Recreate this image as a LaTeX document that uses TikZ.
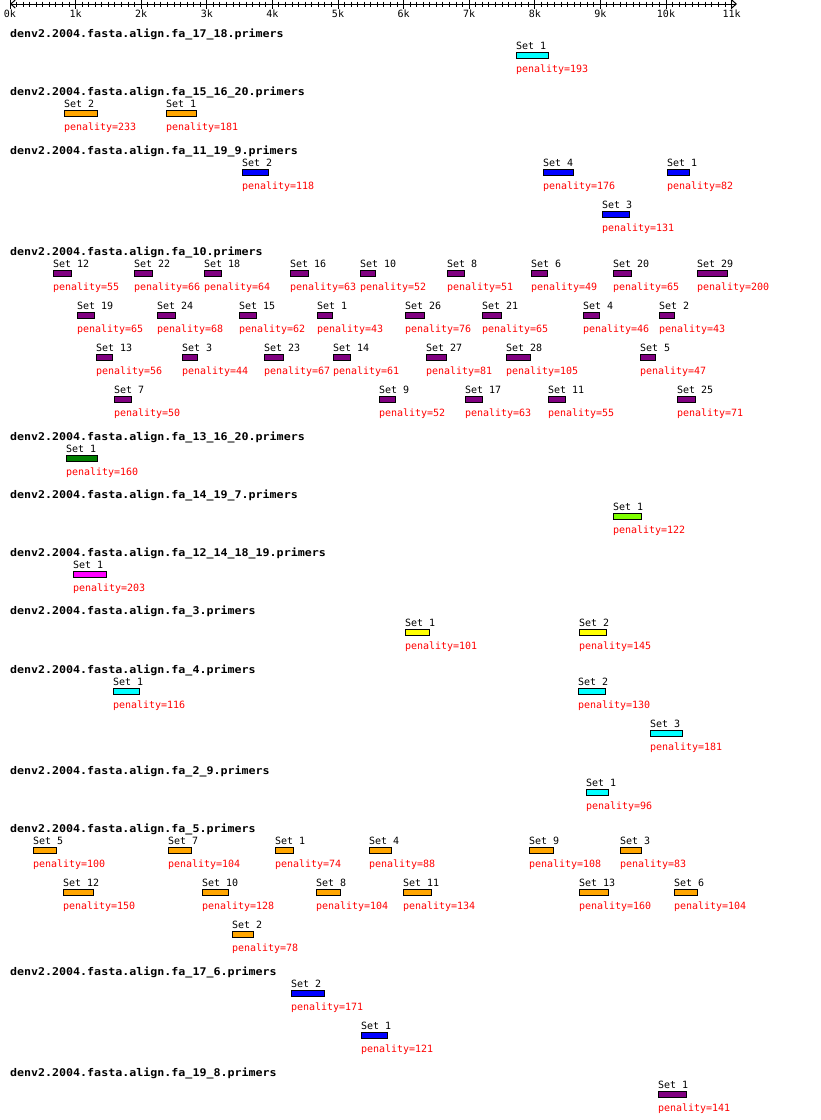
\documentclass[tikz,border=0pt]{standalone}
\usepackage{fontspec}
\usepackage{graphicx}
\usetikzlibrary{arrows.meta}
\newfontfamily\monof{DejaVu Sans Mono}
\definecolor{pcyan}{RGB}{0,255,255}
\definecolor{porange}{RGB}{255,165,0}
\definecolor{pblue}{RGB}{0,0,255}
\definecolor{ppurple}{RGB}{128,0,128}
\definecolor{pgreen}{RGB}{0,128,0}
\definecolor{plime}{RGB}{127,255,0}
\definecolor{pmagenta}{RGB}{255,0,255}
\definecolor{pyellow}{RGB}{255,255,0}
\definecolor{pred}{RGB}{255,0,0}
\tikzset{
  barbox/.style={rectangle, draw=black, line width=1pt, inner sep=0pt, outer sep=0pt, minimum height=6pt, anchor=north west},
  setlbl/.style={font=\monof\fontsize{10}{12}\selectfont, text=black, inner sep=0pt, outer sep=0pt, anchor=base west},
  penlbl/.style={font=\monof\fontsize{10}{12}\selectfont, text=pred, inner sep=0pt, outer sep=0pt, anchor=base west},
  ticklbl/.style={font=\monof\fontsize{10}{12}\selectfont, text=black, inner sep=0pt, outer sep=0pt, anchor=base},
  ttl/.style={font=\monof\bfseries\fontsize{10.6}{12}\selectfont, text=black, inner sep=0pt, outer sep=0pt, anchor=base west},
  axisline/.style={line width=1pt, draw=black},
}
\newcommand\pset[7]{%
  \node[barbox, fill=#5, minimum width={#4-1}] (#1) at ({#2+0.5},{#3+0.5}) {};
  \node[setlbl] (#1s) at (#2,{#3-3}) {Set #6};
  \node[penlbl] (#1p) at (#2,{#3+20.5}) {penality=#7};
}
\newcommand\ptitle[3]{%
  \node[ttl] (#1) at (10,#2) {\scalebox{1.1}[1]{denv2.2004.fasta.align.fa\_#3.primers}};
}
\begin{document}
\begin{tikzpicture}[x=1pt,y=-1pt,line width=1pt]
\fill[white] (0,0) rectangle (820,1120);
\useasboundingbox (0,0) rectangle (820,1120);
% ruler
\coordinate (axL) at (10,4);
\coordinate (axR) at (737,4);
\draw[axisline, {Straight Barb[length=4.5pt,width=8pt]}-{Straight Barb[length=4.5pt,width=8pt]}] (axL) -- (axR);
\foreach \i in {1,...,110}{
  \pgfmathsetmacro\xx{10+6.56*\i}
  \draw[line width=1pt] (\xx,1.5) -- (\xx,6.5);
}
\foreach \k in {0,...,11}{
  \pgfmathsetmacro\xx{10+65.6*\k}
  \draw[line width=1pt] (\xx,0) -- (\xx,8.5);
  \node[ticklbl] (tk\k) at (\xx,17.5) {\k k};
}
% track 1
\ptitle{t1}{37}{17\_18}
\pset{a1}{516}{52}{33}{pcyan}{1}{193}
% track 2
\ptitle{t2}{95}{15\_16\_20}
\pset{b2}{64}{110}{34}{porange}{2}{233}
\pset{b1}{166}{110}{31}{porange}{1}{181}
% track 3
\ptitle{t3}{154}{11\_19\_9}
\pset{c2}{242}{169}{27}{pblue}{2}{118}
\pset{c4}{543}{169}{31}{pblue}{4}{176}
\pset{c1}{667}{169}{23}{pblue}{1}{82}
\pset{c3}{602}{211}{28}{pblue}{3}{131}
% track 4
\ptitle{t4}{255}{10}
\pset{d12}{53}{270}{19}{ppurple}{12}{55}
\pset{d22}{134}{270}{19}{ppurple}{22}{66}
\pset{d18}{204}{270}{18}{ppurple}{18}{64}
\pset{d16}{290}{270}{19}{ppurple}{16}{63}
\pset{d10}{360}{270}{16}{ppurple}{10}{52}
\pset{d8}{447}{270}{18}{ppurple}{8}{51}
\pset{d6}{531}{270}{17}{ppurple}{6}{49}
\pset{d20}{613}{270}{19}{ppurple}{20}{65}
\pset{d29}{697}{270}{31}{ppurple}{29}{200}
\pset{d19}{77}{312}{18}{ppurple}{19}{65}
\pset{d24}{157}{312}{19}{ppurple}{24}{68}
\pset{d15}{239}{312}{18}{ppurple}{15}{62}
\pset{d1}{317}{312}{16}{ppurple}{1}{43}
\pset{d26}{405}{312}{20}{ppurple}{26}{76}
\pset{d21}{482}{312}{20}{ppurple}{21}{65}
\pset{d4}{583}{312}{17}{ppurple}{4}{46}
\pset{d2}{659}{312}{16}{ppurple}{2}{43}
\pset{d13}{96}{354}{17}{ppurple}{13}{56}
\pset{d3}{182}{354}{16}{ppurple}{3}{44}
\pset{d23}{264}{354}{20}{ppurple}{23}{67}
\pset{d14}{333}{354}{18}{ppurple}{14}{61}
\pset{d27}{426}{354}{21}{ppurple}{27}{81}
\pset{d28}{506}{354}{25}{ppurple}{28}{105}
\pset{d5}{640}{354}{16}{ppurple}{5}{47}
\pset{d7}{114}{396}{18}{ppurple}{7}{50}
\pset{d9}{379}{396}{17}{ppurple}{9}{52}
\pset{d17}{465}{396}{18}{ppurple}{17}{63}
\pset{d11}{548}{396}{18}{ppurple}{11}{55}
\pset{d25}{677}{396}{19}{ppurple}{25}{71}
% track 5
\ptitle{t5}{440}{13\_16\_20}
\pset{e1}{66}{455}{32}{pgreen}{1}{160}
% track 6
\ptitle{t6}{498}{14\_19\_7}
\pset{f1}{613}{513}{29}{plime}{1}{122}
% track 7
\ptitle{t7}{556}{12\_14\_18\_19}
\pset{g1}{73}{571}{34}{pmagenta}{1}{203}
% track 8
\ptitle{t8}{614}{3}
\pset{h1}{405}{629}{25}{pyellow}{1}{101}
\pset{h2}{579}{629}{28}{pyellow}{2}{145}
% track 9
\ptitle{t9}{673}{4}
\pset{i1}{113}{688}{27}{pcyan}{1}{116}
\pset{i2}{578}{688}{28}{pcyan}{2}{130}
\pset{i3}{650}{730}{33}{pcyan}{3}{181}
% track 10
\ptitle{t10}{774}{2\_9}
\pset{j1}{586}{789}{23}{pcyan}{1}{96}
% track 11
\ptitle{t11}{832}{5}
\pset{k5}{33}{847}{24}{porange}{5}{100}
\pset{k7}{168}{847}{24}{porange}{7}{104}
\pset{k1}{275}{847}{19}{porange}{1}{74}
\pset{k4}{369}{847}{23}{porange}{4}{88}
\pset{k9}{529}{847}{25}{porange}{9}{108}
\pset{k3}{620}{847}{22}{porange}{3}{83}
\pset{k12}{63}{889}{31}{porange}{12}{150}
\pset{k10}{202}{889}{27}{porange}{10}{128}
\pset{k8}{316}{889}{25}{porange}{8}{104}
\pset{k11}{403}{889}{29}{porange}{11}{134}
\pset{k13}{579}{889}{30}{porange}{13}{160}
\pset{k6}{674}{889}{24}{porange}{6}{104}
\pset{k2}{232}{931}{22}{porange}{2}{78}
% track 12
\ptitle{t12}{975}{17\_6}
\pset{l2}{291}{990}{34}{pblue}{2}{171}
\pset{l1}{361}{1032}{27}{pblue}{1}{121}
% track 13
\ptitle{t13}{1076}{19\_8}
\pset{m1}{658}{1091}{29}{ppurple}{1}{141}
\end{tikzpicture}
\end{document}
